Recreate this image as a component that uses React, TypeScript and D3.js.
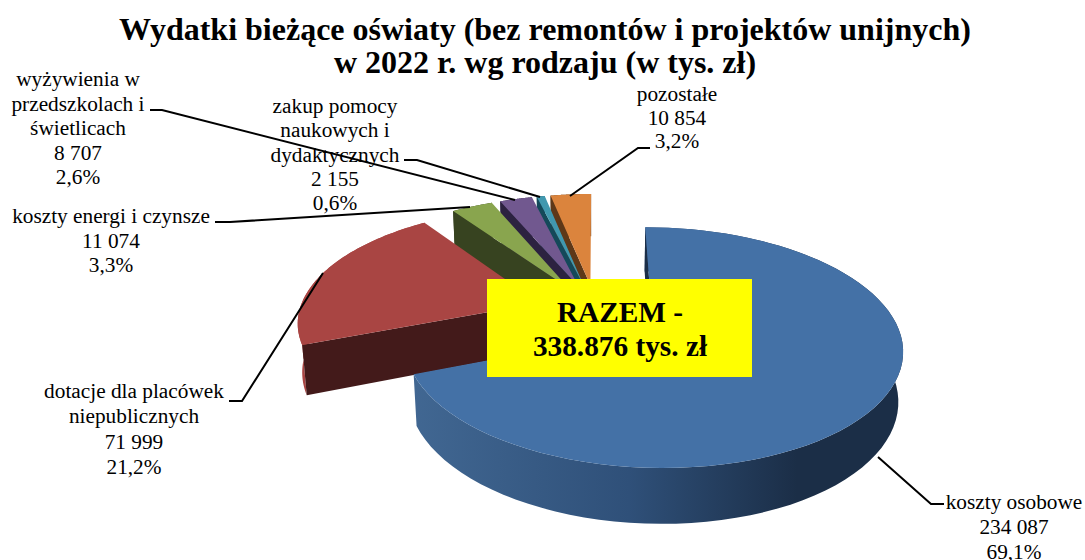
import React from "react";
import * as d3 from "d3";

const titleLines = [
  "Wydatki bieżące oświaty (bez remontów i projektów unijnych)",
  "w 2022 r. wg rodzaju (w tys. zł)"
];
const totalLines = ["RAZEM -", "338.876 tys. zł"];

const categories = [
  ["koszty osobowe"],
  ["dotacje dla placówek", "niepublicznych"],
  ["koszty energi i czynsze"],
  ["wyżywienia w", "przedszkolach i", "świetlicach"],
  ["zakup pomocy", "naukowych i", "dydaktycznych"],
  ["pozostałe"]
];
const values = [234087, 71999, 11074, 8707, 2155, 10854];
const explosion = [0.28, 0.25, 0.24, 0.24, 0.24, 0.24];

const topColors = ["#4471a6", "#a94543", "#89a54e", "#71588f", "#4198af", "#db843d"];
const wallColors = ["#1b2e47", "#431a1a", "#374320", "#2c2240", "#14495a", "#5e3818"];
const rimColors = ["url(#blueRim)", "#a94543", "#374320", "#2c2240", "#14495a", "#5e3818"];

// where the text blocks sit: centre x, first baseline, line step
const labelPos = [
  [1014, 509, 25],
  [134, 398, 25.3],
  [111, 223, 24.5],
  [78, 86, 24.5],
  [335, 113, 24.3],
  [677, 101, 23.5]
];
const leaders = [
  [[944, 504], [931, 504], [878, 457]],
  [[229, 401], [242, 401], [323, 273]],
  [[215, 222], [230, 222], [470, 207]],
  [[150, 110], [162, 110], [515, 200]],
  [[404, 160], [417, 160], [540, 197]],
  [[650, 148], [638, 148], [570, 196]]
];

// 3d pie projection
const cx = 596;
const cy = 311;
const A = 240;
const K = 112;
const persp = 0.15;
const depthPersp = 0.015;
const depth = 48.5;

const loc = d3.formatLocale({ decimal: ",", thousands: " ", grouping: [3], currency: ["", ""] });
const fmtValue = loc.format(",d");
const fmtPct = loc.format(".1%");

function project(U: number, V: number, bottom: boolean): [number, number] {
  const W = 1 + persp * V;
  const Wb = W + (bottom ? depthPersp : 0);
  return [cx + (A * U) / Wb, cy - (K * V) / Wb + (bottom ? depth / W : 0)];
}

const line = d3.line();

function App() {
  const total = d3.sum(values);
  const arcs = d3.pie<number>().sort(null)(values);

  const slices = arcs.map((a, i) => {
    const mid = (a.startAngle + a.endAngle) / 2;
    const ox = explosion[i] * Math.sin(mid);
    const oy = explosion[i] * Math.cos(mid);
    const pt = (t: number, r: number, bottom: boolean) =>
      project(ox + r * Math.sin(t), oy + r * Math.cos(t), bottom);
    const angles = d3.range(0, 81).map(k => a.startAngle + ((a.endAngle - a.startAngle) * k) / 80);
    const topArc = angles.map(t => pt(t, 1, false));
    const botArc = angles.map(t => pt(t, 1, true));
    const apexT = pt(0, 0, false);
    const apexB = pt(0, 0, true);
    return {
      i,
      top: line([apexT, ...topArc]) + "Z",
      rim: line([...topArc, ...botArc.slice().reverse()]) + "Z",
      // only the cut at the start angle faces the viewer
      wall: line([apexT, topArc[0], botArc[0], apexB]) + "Z"
    };
  });

  // far slices first, the big front one last
  const order = [5, 4, 3, 2, 1, 0];

  return (
    <svg
      width={1085}
      height={560}
      style={{ position: "absolute", left: 0, top: 0, background: "#fff" }}
      fontFamily="'Liberation Serif', serif"
    >
      <defs>
        <linearGradient id="blueRim" gradientUnits="userSpaceOnUse" x1={413} x2={893} y1={0} y2={0}>
          <stop offset="0" stopColor="#416792" />
          <stop offset="0.45" stopColor="#2f5079" />
          <stop offset="0.8" stopColor="#1b2e47" />
          <stop offset="1" stopColor="#1b2e47" />
        </linearGradient>
      </defs>

      {order.map(idx => {
        const s = slices[idx];
        return (
          <g key={idx}>
            <path d={s.rim} fill={rimColors[idx]} />
            <path d={s.wall} fill={wallColors[idx]} />
            <path d={s.top} fill={topColors[idx]} />
          </g>
        );
      })}

      {categories.map((names, i) => {
        const rows = [...names, fmtValue(values[i]), fmtPct(values[i] / total)];
        return (
          <g key={i} fontSize={21.3} textAnchor="middle" fill="#000">
            {rows.map((t, j) => (
              <text key={j} x={labelPos[i][0]} y={labelPos[i][1] + j * labelPos[i][2]}>
                {t}
              </text>
            ))}
          </g>
        );
      })}

      {leaders.map((l, i) => (
        <path key={i} d={line(l as [number, number][]) as string} fill="none" stroke="#000" strokeWidth={2} />
      ))}

      <rect x={487} y={279} width={265} height={98} fill="#ffff00" />
      {totalLines.map((t, j) => (
        <text key={j} x={620} y={322 + j * 34} textAnchor="middle" fontWeight="bold" fontSize={29.3}>
          {t}
        </text>
      ))}

      {titleLines.map((t, j) => (
        <text key={j} x={545} y={40 + j * 33} textAnchor="middle" fontWeight="bold" fontSize={32}>
          {t}
        </text>
      ))}
    </svg>
  );
}

export default App;
